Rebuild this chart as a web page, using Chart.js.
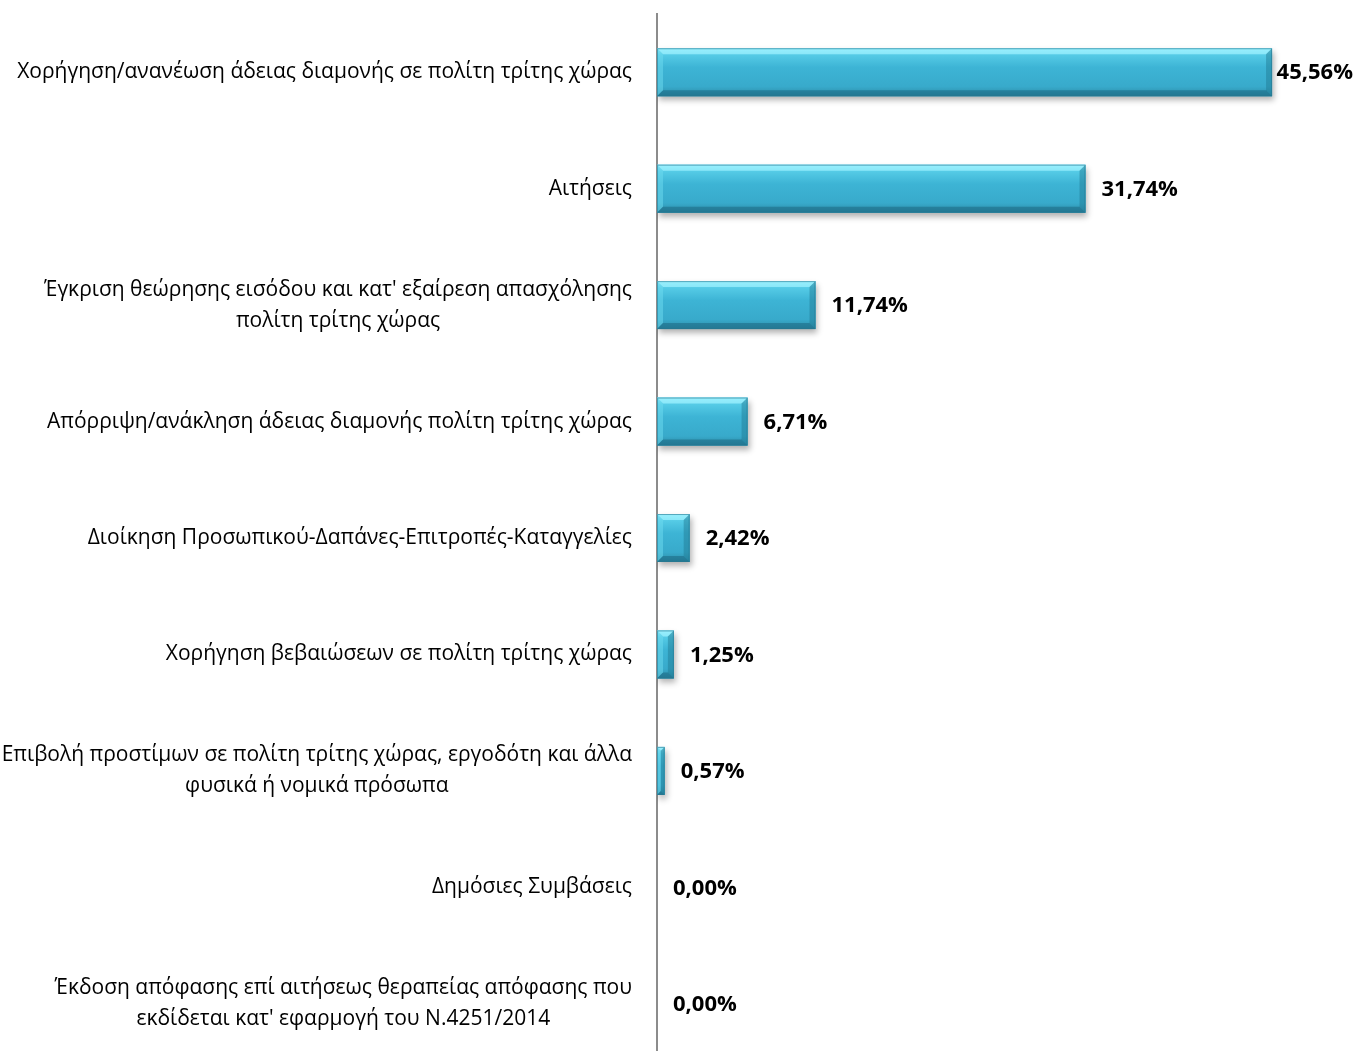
<!DOCTYPE html>
<html>
<head>
<meta charset="utf-8">
<script src="https://cdn.jsdelivr.net/npm/chart.js@4/dist/chart.umd.min.js"></script>
<style>
html,body{margin:0;padding:0;background:#fff;overflow:hidden;}
#wrap{position:absolute;left:0;top:0;width:1356px;height:1062px;}
</style>
</head>
<body>
<div id="wrap"><canvas id="c"></canvas></div>
<script>
const categories = [
  ["Χορήγηση/ανανέωση άδειας διαμονής σε πολίτη τρίτης χώρας"],
  ["Αιτήσεις"],
  ["Έγκριση θεώρησης εισόδου και κατ' εξαίρεση απασχόλησης", "πολίτη τρίτης χώρας"],
  ["Απόρριψη/ανάκληση άδειας διαμονής πολίτη τρίτης χώρας"],
  ["Διοίκηση Προσωπικού-Δαπάνες-Επιτροπές-Καταγγελίες"],
  ["Χορήγηση βεβαιώσεων σε πολίτη τρίτης χώρας"],
  ["Επιβολή προστίμων σε πολίτη τρίτης χώρας, εργοδότη και άλλα", "φυσικά ή νομικά πρόσωπα"],
  ["Δημόσιες Συμβάσεις"],
  ["Έκδοση απόφασης επί αιτήσεως θεραπείας απόφασης που", "εκδίδεται κατ' εφαρμογή του Ν.4251/2014"]
];
const values = [45.56, 31.74, 11.74, 6.71, 2.42, 1.25, 0.57, 0.00, 0.00];

const LABEL_FONT = '21px "Open Sans", "Noto Sans", sans-serif';
const VALUE_FONT = 'bold 22px "Open Sans", "Noto Sans", sans-serif';

function fmt(v){ return v.toFixed(2).replace('.', ',') + '%'; }

const labelPlugin = {
  id: 'sideLabels',
  afterDraw(chart){
    const ctx = chart.ctx;
    const y = chart.scales.y;
    const area = chart.chartArea;
    ctx.save();
    ctx.font = LABEL_FONT;
    ctx.fillStyle = '#000';
    ctx.textBaseline = 'middle';
    ctx.textAlign = 'center';
    const right = area.left - 25;
    const lh = 31;
    categories.forEach((lines, i) => {
      const cy = y.getPixelForTick(i);
      const w = Math.max(...lines.map(l => ctx.measureText(l).width));
      const cx = right - w / 2;
      const y0 = cy - (lines.length - 1) * lh / 2;
      lines.forEach((l, j) => ctx.fillText(l, cx, y0 + j * lh));
    });
    ctx.font = VALUE_FONT;
    ctx.textAlign = 'left';
    const meta = chart.getDatasetMeta(0);
    meta.data.forEach((bar, i) => {
      const t = fmt(values[i]);
      const tw = ctx.measureText(t).width;
      let x = bar.x + 16;
      if (x + tw > chart.width - 3) x = chart.width - 3 - tw;
      ctx.fillText(t, x, bar.y + 1);
    });
    ctx.restore();
  }
};

const bevelPlugin = {
  id: 'bevel',
  beforeDatasetsDraw(chart){
    const ctx = chart.ctx;
    ctx.save();
    ctx.shadowColor = 'rgba(0,0,0,0.3)';
    ctx.shadowBlur = 6;
    ctx.shadowOffsetX = 2;
    ctx.shadowOffsetY = 4;
  },
  afterDatasetsDraw(chart){
    const ctx = chart.ctx;
    ctx.restore();
    const meta = chart.getDatasetMeta(0);
    meta.data.forEach((bar) => {
      const x0 = bar.base, x1 = bar.x;
      const h = bar.height;
      const t = bar.y - h / 2, b = bar.y + h / 2;
      const w = x1 - x0;
      if (w < 0.5) return;
      ctx.save();
      const g = ctx.createLinearGradient(0, t, 0, b);
      g.addColorStop(0, '#8ae8f9');
      g.addColorStop(0.14, '#55cbe6');
      g.addColorStop(0.4, '#3db4d5');
      g.addColorStop(0.8, '#38aacb');
      g.addColorStop(1, '#2c8ba6');
      ctx.fillStyle = g;
      ctx.fillRect(x0, t, w, h);
      const bv = Math.min(6, w / 2);
      ctx.fillStyle = 'rgba(160,242,255,0.7)';
      ctx.beginPath();
      ctx.moveTo(x0, t); ctx.lineTo(x1, t); ctx.lineTo(x1 - bv, t + bv); ctx.lineTo(x0 + bv, t + bv); ctx.closePath(); ctx.fill();
      ctx.fillStyle = 'rgba(110,220,240,0.5)';
      ctx.beginPath();
      ctx.moveTo(x0, t); ctx.lineTo(x0 + bv, t + bv); ctx.lineTo(x0 + bv, b - bv); ctx.lineTo(x0, b); ctx.closePath(); ctx.fill();
      ctx.fillStyle = 'rgba(30,120,145,0.45)';
      ctx.beginPath();
      ctx.moveTo(x1, t); ctx.lineTo(x1, b); ctx.lineTo(x1 - bv, b - bv); ctx.lineTo(x1 - bv, t + bv); ctx.closePath(); ctx.fill();
      ctx.fillStyle = 'rgba(25,100,125,0.5)';
      ctx.beginPath();
      ctx.moveTo(x0, b); ctx.lineTo(x1, b); ctx.lineTo(x1 - bv, b - bv); ctx.lineTo(x0 + bv, b - bv); ctx.closePath(); ctx.fill();
      ctx.strokeStyle = 'rgba(40,120,145,0.6)';
      ctx.lineWidth = 1;
      ctx.strokeRect(x0 + 0.5, t + 0.5, w - 1, h - 1);
      ctx.restore();
    });
  }
};

new Chart(document.getElementById('c'), {
  type: 'bar',
  data: {
    labels: categories,
    datasets: [{
      data: values,
      backgroundColor: '#3ab3d5',
      borderWidth: 0,
      categoryPercentage: 1,
      barPercentage: 0.412
    }]
  },
  options: {
    indexAxis: 'y',
    responsive: true,
    maintainAspectRatio: false,
    animation: false,
    layout: { padding: { left: 657, right: 24, top: 14, bottom: 0 } },
    plugins: { legend: { display: false }, tooltip: { enabled: false } },
    scales: {
      x: { display: false, min: 0, max: 50 },
      y: {
        display: true,
        ticks: { display: false },
        grid: { display: false, drawTicks: false },
        border: { display: true, color: '#8c8c8c', width: 2 }
      }
    }
  },
  plugins: [bevelPlugin, labelPlugin]
});
</script>
</body>
</html>
